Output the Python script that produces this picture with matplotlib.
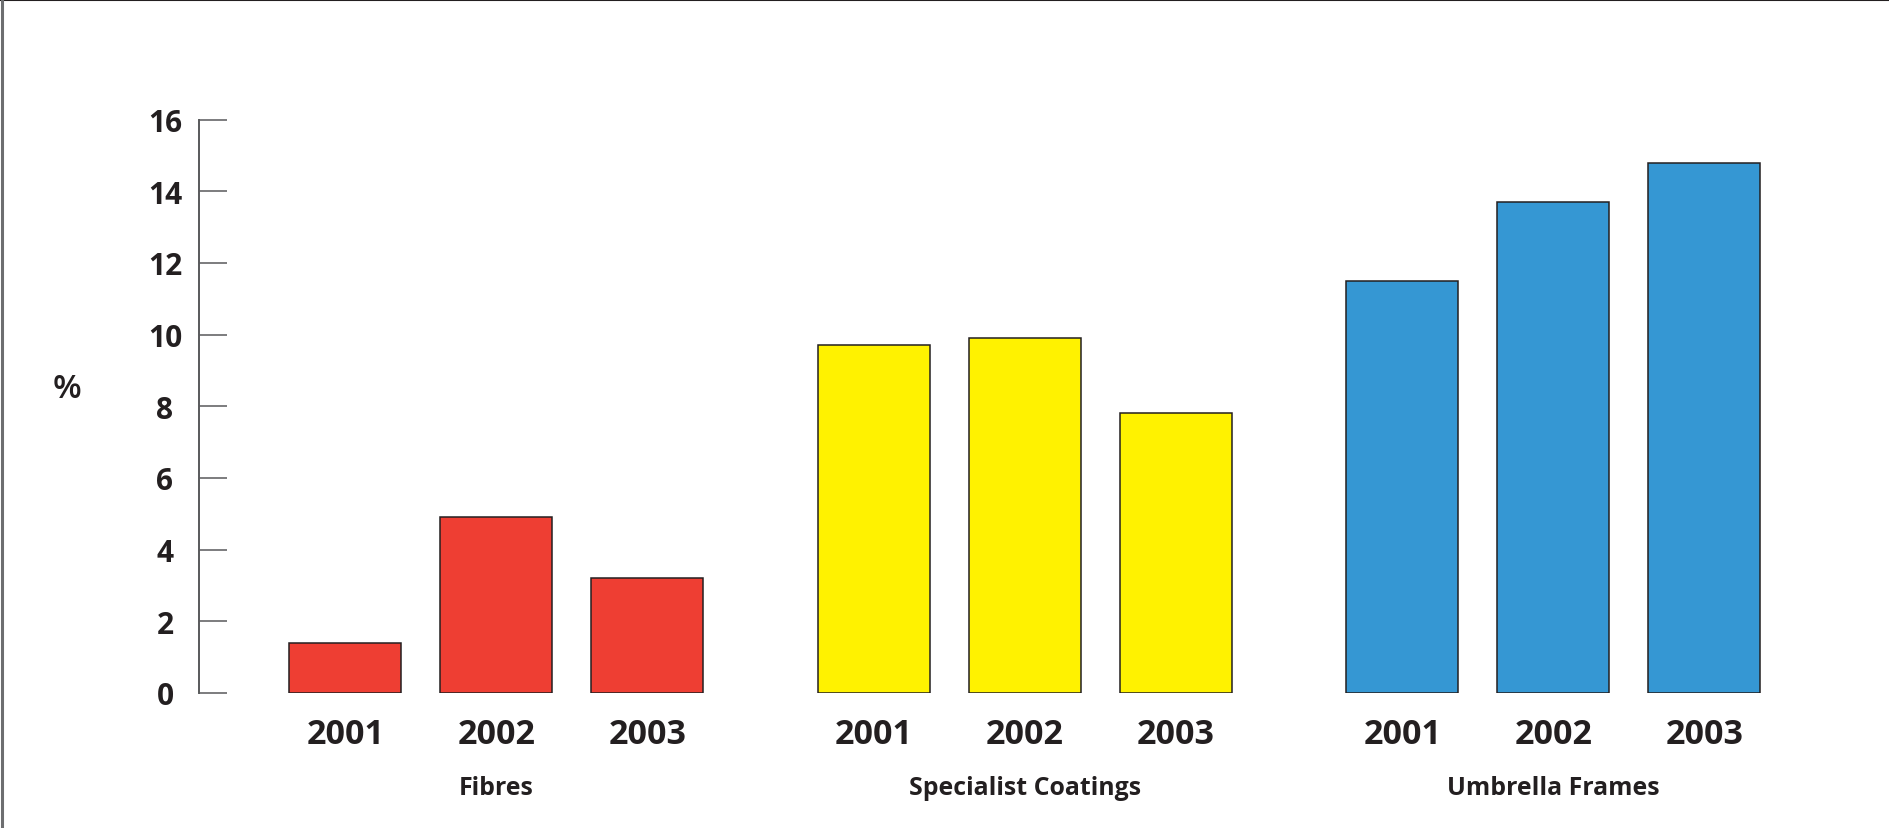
import matplotlib
matplotlib.use("Agg")
import matplotlib.pyplot as plt
from matplotlib.lines import Line2D

categories = ['Fibres', 'Specialist Coatings', 'Umbrella Frames']
years = ['2001', '2002', '2003']
fibres = [1.4, 4.9, 3.2]
specialist = [9.7, 9.9, 7.8]
umbrella = [11.5, 13.7, 14.8]
series = [fibres, specialist, umbrella]
colors = ['#ee3e33', '#fff200', '#3597d3']
yticks = [0, 2, 4, 6, 8, 10, 12, 14, 16]

TXT = '#231f20'
plt.rcParams['font.family'] = ['Open Sans', 'DejaVu Sans']

W, H = 1889, 829
fig = plt.figure(figsize=(W / 100, H / 100), dpi=100)
ax = fig.add_axes([199 / W, (H - 694) / H, (1795 - 199) / W, (694 - 120.5) / H])

group_step = 3.5
for g, (vals, col, cat) in enumerate(zip(series, colors, categories)):
    xs = [g * group_step + i for i in range(len(years))]
    ax.bar(xs, vals, width=0.742, color=col, edgecolor=TXT, linewidth=1.1, zorder=3)
    for x, yr in zip(xs, years):
        ax.text(x, -0.0877, yr, transform=ax.get_xaxis_transform(), ha='center',
                va='baseline', fontsize=24.5, fontweight='bold', color=TXT)
    ax.text(xs[1], -0.1761, cat, transform=ax.get_xaxis_transform(), ha='center',
            va='baseline', fontsize=17.9, fontweight='bold', color=TXT)

ax.set_xlim(-0.970, 9.6)
ax.set_ylim(0, 16)
ax.set_yticks(yticks)
ax.set_yticklabels([str(v) for v in yticks])
ax.tick_params(axis='y', direction='in', length=20, width=1.1, color='#58595b',
               pad=24.5, labelsize=21.5, labelcolor=TXT)
for lab in ax.get_yticklabels():
    lab.set_fontweight('bold')
    lab.set_horizontalalignment('center')
ax.set_xticks([])
for s in ['top', 'right', 'bottom']:
    ax.spines[s].set_visible(False)
ax.spines['left'].set_color('#58595b')
ax.spines['left'].set_linewidth(1.4)

fig.text(67 / W, 1 - 398 / H, '%', ha='center', va='baseline', fontsize=24,
         fontweight='semibold', color=TXT)

fig.add_artist(Line2D([0, 1], [1 - 1 / H, 1 - 1 / H], transform=fig.transFigure,
                      color=TXT, linewidth=1.5))
fig.add_artist(Line2D([1.5 / W, 1.5 / W], [0, 1], transform=fig.transFigure,
                      color='#6d6e70', linewidth=2.2))

fig.savefig('out.png', dpi=100, facecolor='white')
